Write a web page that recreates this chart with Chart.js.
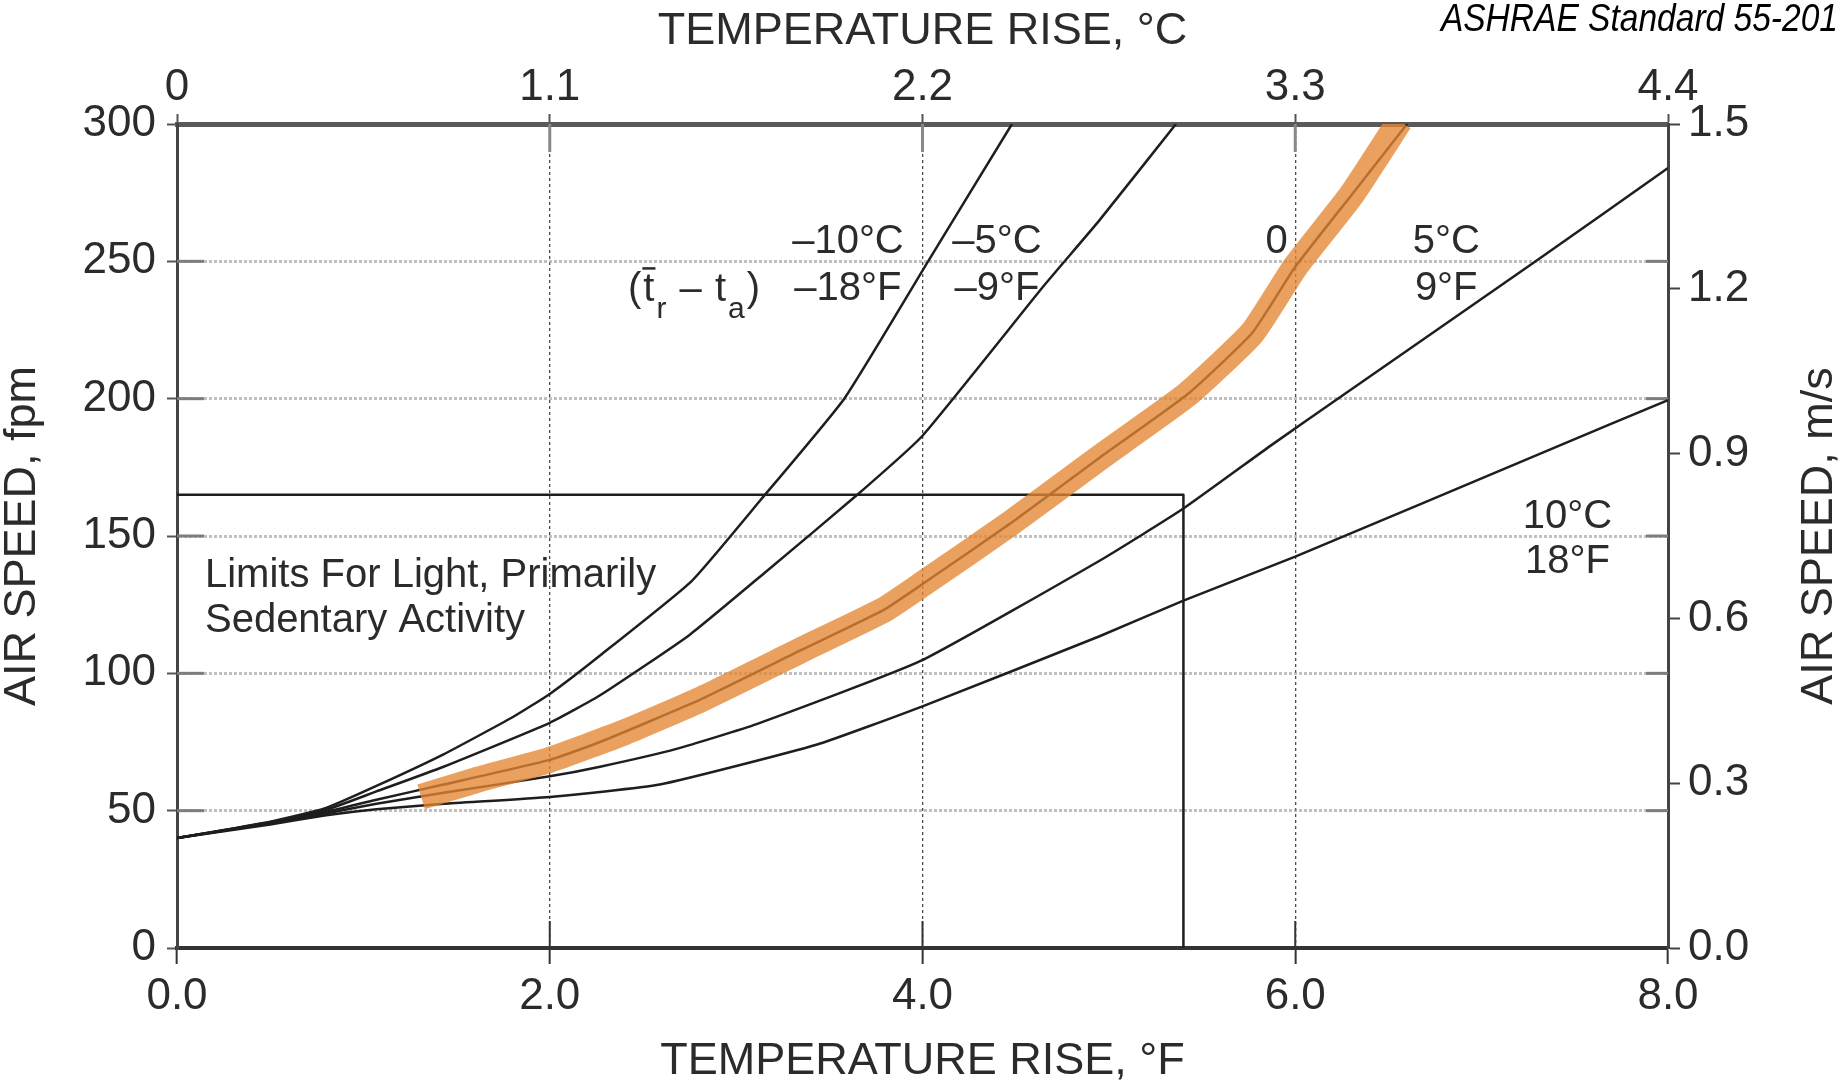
<!DOCTYPE html>
<html>
<head>
<meta charset="utf-8">
<title>Air speed vs temperature rise</title>
<script src="https://cdn.jsdelivr.net/npm/chart.js"></script>
<style>
  html, body { margin: 0; padding: 0; background: #fff; }
  #wrap { position: relative; width: 1843px; height: 1084px; }
</style>
</head>
<body>
<div id="wrap"><canvas id="plot-id"></canvas></div>
<script>
const m10F   = [0, 0.5, 0.8, 1.07, 1.43, 1.8, 2.0, 2.27, 2.76, 3.13, 3.58, 4.03, 4.48];
const m10Fpm = [40, 46, 51, 59, 70.5, 84, 92.5, 106.5, 133.5, 163, 200, 250, 300];

const m5F   = [0, 0.5, 0.8, 1.07, 1.43, 2.0, 2.27, 2.75, 3.16, 3.65, 4.0, 4.65, 4.95, 5.36];
const m5Fpm = [40, 45.8, 50.3, 57, 66, 82, 92, 114, 137, 165, 186.5, 241, 265, 300];

const zeroF   = [0, 0.5, 0.8, 1.07, 1.43, 2.0, 2.27, 2.81, 3.35, 3.79, 4.0, 4.47, 4.95, 5.42, 5.77, 6.0, 6.3, 6.6];
const zeroFpm = [40, 45.6, 49.6, 54, 59.5, 68.5, 75, 90.5, 108.5, 123, 132.5, 154.5, 178.5, 201.5, 224, 248, 274, 300];

const p5F   = [0, 0.5, 0.8, 1.07, 1.43, 2.0, 2.27, 2.68, 3.11, 3.99, 4.95, 5.4, 5.87, 6.24, 7.29, 8.0];
const p5Fpm = [40, 45.4, 49, 52.5, 56.5, 62.5, 66, 72.5, 81.5, 104.5, 141, 160, 183, 200.5, 250, 284];

const p10F   = [0, 0.5, 0.8, 1.07, 1.43, 2.0, 2.59, 3.43, 4.0, 4.95, 5.4, 6.0, 7.35, 8.0];
const p10Fpm = [40, 45, 48.3, 50.5, 52.5, 55, 59.5, 74, 88, 113.5, 126.5, 142.5, 181, 199.5];

// orange highlighter stroke laid over the 0 curve
const markF   = [1.31, 1.6, 2.0, 2.4, 2.81, 3.35, 3.79, 4.0, 4.47, 4.95, 5.42, 5.77, 6.0, 6.3, 6.56];
const markFpm = [55, 61, 68.5, 78.5, 90.5, 108.5, 123, 132.5, 154.5, 178.5, 201.5, 224, 248, 274, 301];

// limits box for light, primarily sedentary activity
const boxF   = [0, 5.4, 5.4];
const boxFpm = [165, 165, 0];

const fTicks   = [0, 2, 4, 6, 8];
const cTicks   = [0, 1.1, 2.2, 3.3, 4.4];
const fpmTicks = [0, 50, 100, 150, 200, 250, 300];
const msTicks  = [0, 0.3, 0.6, 0.9, 1.2, 1.5];

const FONT = "'Liberation Sans', Arial, Helvetica, sans-serif";
const INK = '#2b2b2b';

function pts(xs, ys) {
    return xs.map((x, i) => ({ x: x, y: ys[i] }));
}

function curve(label, xs, ys, bend) {
    return {
        label: label,
        data: pts(xs, ys),
        showLine: true,
        borderColor: '#1e1e1e',
        borderWidth: 2.5,
        borderJoinStyle: 'round',
        pointRadius: 0,
        tension: bend,
        order: 1
    };
}

function line(ctx, x1, y1, x2, y2) {
    ctx.beginPath();
    ctx.moveTo(x1, y1);
    ctx.lineTo(x2, y2);
    ctx.stroke();
}

// (t̄r – ta) with overbar and subscripts
function drawDelta(ctx, x, y) {
    const big = '40px ' + FONT, small = '30px ' + FONT;
    const parts = [['(', big, 0], ['t', big, 0, true], ['r', small, 17], [' \u2013 ', big, 0],
                   ['t', big, 0], ['a', small, 17], [')', big, 0]];
    let cx = x;
    parts.forEach(p => {
        ctx.font = p[1];
        const w = ctx.measureText(p[0]).width;
        ctx.fillText(p[0], cx, y + p[2]);
        if (p[3]) ctx.fillRect(cx - 1, y - 34, w + 2, 2.5);
        cx += w + 2;
    });
}

// curve names: text, °F at centre, fpm at baseline
const curveNotes = [
    ['\u201310\u00b0C', 3.60, 253], ['\u201318\u00b0F', 3.60, 236],
    ['\u20135\u00b0C', 4.40, 253], ['\u20139\u00b0F', 4.40, 236],
    ['0', 5.90, 253],
    ['5\u00b0C', 6.81, 253], ['9\u00b0F', 6.81, 236],
    ['10\u00b0C', 7.46, 153], ['18\u00b0F', 7.46, 136.5]
];
const boxNote = ['Limits For Light, Primarily', 'Sedentary Activity'];

const decorations = {
    id: 'decorations',
    beforeDatasetsDraw(chart) {
        const { ctx, chartArea: a, scales } = chart;
        ctx.save();
        // short solid stubs just inside the frame
        ctx.lineWidth = 3;
        ctx.strokeStyle = '#7d7d7d';
        fpmTicks.slice(1, -1).forEach(v => {
            const y = scales.y.getPixelForValue(v);
            line(ctx, a.left, y, a.left + 27, y);
            line(ctx, a.right - 22, y, a.right, y);
        });
        fTicks.slice(1, -1).forEach(v => {
            const x = scales.x.getPixelForValue(v);
            ctx.strokeStyle = '#333';
            ctx.lineWidth = 2;
            line(ctx, x, a.bottom - 27, x, a.bottom);
            ctx.strokeStyle = '#888';
            ctx.lineWidth = 3;
            line(ctx, x, a.top, x, a.top + 28);
        });
        ctx.restore();
    },
    afterDraw(chart) {
        const { ctx, chartArea: a, scales } = chart;
        const sx = v => scales.x.getPixelForValue(v);
        const sy = v => scales.y.getPixelForValue(v);
        ctx.save();
        ctx.fillStyle = INK;
        ctx.textBaseline = 'alphabetic';
        ctx.font = '40px ' + FONT;
        ctx.textAlign = 'center';
        curveNotes.forEach(n => ctx.fillText(n[0], sx(n[1]), sy(n[2])));
        ctx.textAlign = 'left';
        ctx.fillText(boxNote[0], sx(0.15), sy(131.3));
        ctx.fillText(boxNote[1], sx(0.15), sy(114.9));
        drawDelta(ctx, sx(2.42), sy(235.5));

        // right axis title reads upward like the left one
        ctx.save();
        ctx.translate(1820, (a.top + a.bottom) / 2);
        ctx.rotate(-Math.PI / 2);
        ctx.textAlign = 'center';
        ctx.textBaseline = 'middle';
        ctx.font = '45px ' + FONT;
        ctx.fillText('AIR SPEED, m/s', 0, 0);
        ctx.restore();

        // source note, slightly condensed
        ctx.save();
        ctx.fillStyle = '#000';
        ctx.font = 'italic 39px ' + FONT;
        ctx.textAlign = 'right';
        ctx.translate(chart.width - 5, 31);
        ctx.scale(0.86, 1);
        ctx.fillText('ASHRAE Standard 55-201', 0, 0);
        ctx.restore();
        ctx.restore();
    }
};

const tickFont = { size: 44, family: FONT };
const titleFont = { size: 45, family: FONT, lineHeight: 1 };

const ctx = document.getElementById('plot-id');
const chart = new Chart(ctx, {
    type: 'scatter',
    data: {
        datasets: [
            {
                label: 'highlight',
                data: pts(markF, markFpm),
                showLine: true,
                borderColor: 'rgba(228,135,50,0.78)',
                borderWidth: 26,
                borderJoinStyle: 'round',
                pointRadius: 0,
                tension: 0.15,
                order: 0
            },
            curve('-10C', m10F, m10Fpm, 0.15),
            curve('-5C', m5F, m5Fpm, 0.15),
            curve('0', zeroF, zeroFpm, 0.15),
            curve('5C', p5F, p5Fpm, 0.15),
            curve('10C', p10F, p10Fpm, 0.15),
            curve('limits', boxF, boxFpm, 0)
        ]
    },
    options: {
        responsive: true,
        maintainAspectRatio: false,
        animation: false,
        devicePixelRatio: 1,
        events: [],
        layout: { padding: 0 },
        plugins: { legend: { display: false }, tooltip: { enabled: false }, title: { display: false } },
        scales: {
            x: {
                type: 'linear', position: 'bottom', min: 0, max: 8,
                afterBuildTicks: s => { s.ticks = fTicks.map(v => ({ value: v })); },
                afterFit: s => { s.height = 136; },
                ticks: { font: tickFont, color: INK, padding: 6, autoSkip: false, maxRotation: 0,
                         callback: v => v.toFixed(1) },
                grid: { color: '#4a4a4a', lineWidth: 1.3, tickLength: 16, tickColor: '#333', tickWidth: 2 },
                border: { color: '#333', width: 4, dash: [3, 3] },
                title: { display: true, text: 'TEMPERATURE RISE, \u00b0F', font: titleFont, color: INK,
                         padding: { top: 0, bottom: 0 } }
            },
            x2: {
                type: 'linear', position: 'top', min: 0, max: 4.4,
                afterBuildTicks: s => { s.ticks = cTicks.map(v => ({ value: v })); },
                afterFit: s => { s.height = 124; },
                ticks: { font: tickFont, color: INK, padding: 0, autoSkip: false, maxRotation: 0,
                         callback: v => v === 0 ? '0' : v.toFixed(1) },
                grid: { drawOnChartArea: false, tickLength: 10, tickColor: '#555', tickWidth: 2 },
                border: { color: '#5a5a5a', width: 5 },
                title: { display: true, text: 'TEMPERATURE RISE, \u00b0C', font: titleFont, color: INK,
                         padding: { top: 9, bottom: 0 } }
            },
            y: {
                type: 'linear', position: 'left', min: 0, max: 300,
                afterBuildTicks: s => { s.ticks = fpmTicks.map(v => ({ value: v })); },
                afterFit: s => { s.width = 177; },
                ticks: { font: tickFont, color: INK, padding: 11, autoSkip: false,
                         callback: v => String(v) },
                grid: { color: 'rgba(150,150,150,0.6)', lineWidth: 3, tickLength: 10, tickColor: '#555', tickWidth: 2 },
                border: { color: '#444', width: 3, dash: [3, 2] },
                title: { display: true, text: 'AIR SPEED, fpm', font: titleFont, color: INK,
                         padding: { top: 0, bottom: 0 } }
            },
            y2: {
                type: 'linear', position: 'right', min: 0, max: 1.5,
                afterBuildTicks: s => { s.ticks = msTicks.map(v => ({ value: v })); },
                afterFit: s => { s.width = 175; },
                ticks: { font: tickFont, color: INK, padding: 8, autoSkip: false,
                         callback: v => v.toFixed(1) },
                grid: { drawOnChartArea: false, tickLength: 12, tickColor: '#444', tickWidth: 2 },
                border: { color: '#444', width: 3 },
                title: { display: false }
            }
        }
    },
    plugins: [decorations]
});
</script>
</body>
</html>
